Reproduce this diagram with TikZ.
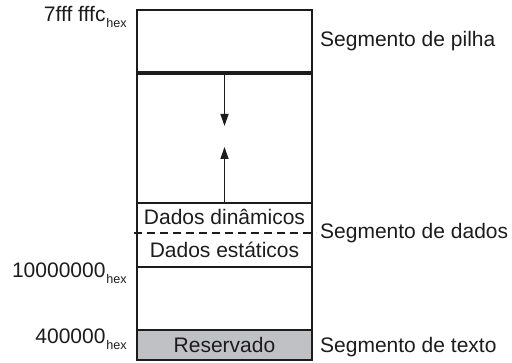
\documentclass[tikz,border=0pt]{standalone}
\usepackage{fontspec}
\setmainfont{Liberation Sans}
\usetikzlibrary{arrows.meta}
\definecolor{resgray}{RGB}{192,193,197}
\definecolor{ink}{RGB}{30,27,28}
\newcommand{\hexsub}{\kern1pt\raisebox{-5.5pt}{\fontsize{12.6}{13}\selectfont hex}}
\begin{document}
\begin{tikzpicture}[x=1pt,y=-1pt,
  txt/.style={font=\fontsize{21}{24}\selectfont, text=ink, inner sep=0pt},
  addr/.style={txt, anchor=base east},
  seglabel/.style={txt, anchor=base west},
  inlabel/.style={txt, anchor=base},
  border/.style={draw=ink, line width=2pt},
  divider/.style={draw=ink, line width=1.8pt},
  heavy/.style={draw=ink, line width=3.2pt},
  dashdiv/.style={draw=ink, line width=1.5pt, dash pattern=on 8pt off 5pt},
  growarrow/.style={draw=ink, line width=1.5pt, -{Triangle[length=12pt,width=8pt]}}]
\useasboundingbox (0,0) rectangle (512,363);
% reserved area
\fill[resgray] (137,330) rectangle (312,360);
% dividers
\path[heavy] (137,73) -- (312,73);
\path[divider] (137,203) -- (312,203);
\path[dashdiv] (134,233) -- (316,233);
\path[divider] (137,267) -- (312,267);
\path[divider] (137,330) -- (312,330);
% outer box
\path[border] (137,10) rectangle (312,360);
% arrow endpoints
\coordinate (stackbase) at (224.5,73);
\coordinate (stacktip) at (224.5,126);
\coordinate (heapbase) at (224.5,203);
\coordinate (heaptip) at (224.5,147);
\draw[growarrow] (stackbase) -- (stacktip);
\draw[growarrow] (heapbase) -- (heaptip);
% inside labels
\node[inlabel] (din) at (224.5,225) {Dados dinâmicos};
\node[inlabel] (est) at (224.5,258) {Dados estáticos};
\node[inlabel] (res) at (224.5,353) {Reservado};
% address labels
\node[addr] (a1) at (127,22) {7fff fffc\hexsub};
\node[addr] (a2) at (127,278) {10000000\hexsub};
\node[addr] (a3) at (127,344) {400000\hexsub};
% segment labels
\node[seglabel] (s1) at (320,47) {Segmento de pilha};
\node[seglabel] (s2) at (320,239) {Segmento de dados};
\node[seglabel] (s3) at (320,353) {Segmento de texto};
\end{tikzpicture}
\end{document}
